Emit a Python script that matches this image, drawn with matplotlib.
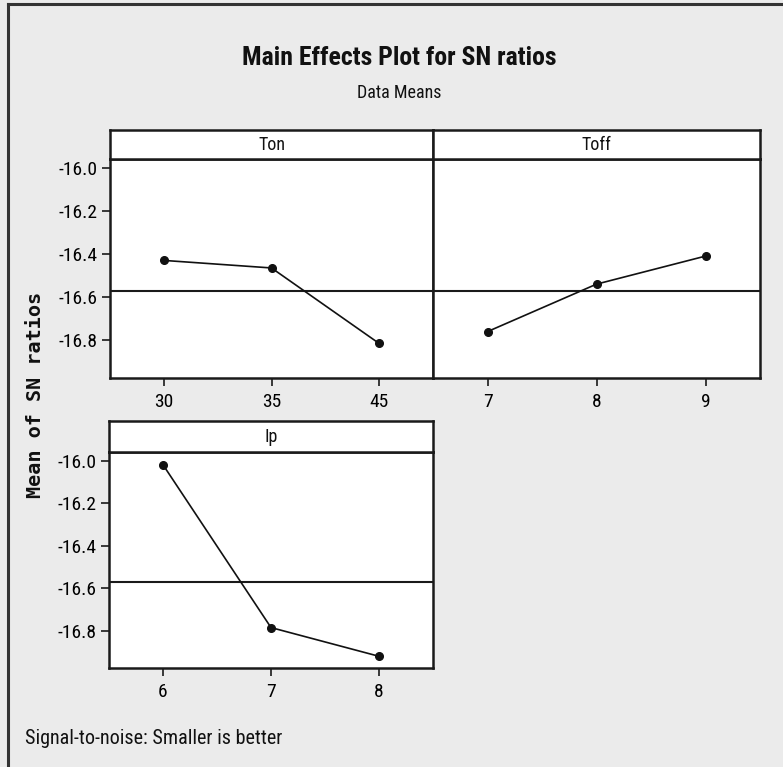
import matplotlib
matplotlib.use("Agg")
import matplotlib.pyplot as plt
from matplotlib import font_manager
import numpy as np

# Main effects data (mean SN ratio at each factor level)
factors = ["Ton", "Toff", "Ip"]
ton_levels = ["30", "35", "45"]
ton_means = [-16.43, -16.465, -16.815]
toff_levels = ["7", "8", "9"]
toff_means = [-16.76, -16.54, -16.41]
ip_levels = ["6", "7", "8"]
ip_means = [-16.02, -16.785, -16.92]
y_ticks = [-16.0, -16.2, -16.4, -16.6, -16.8]

grand_mean = np.mean(ton_means + toff_means + ip_means)

# Prefer a condensed / narrow face for the compact look
narrow_stretch = {"condensed", "semi-condensed", "extra-condensed", "ultra-condensed"}
faces = font_manager.fontManager.ttflist
condensed = [f for f in faces
             if (f.stretch in narrow_stretch or "Narrow" in f.name or "Condensed" in f.name)
             and "Mono" not in f.name and "Serif" not in f.name]
pref = ["Liberation Sans Narrow", "Roboto Condensed", "Open Sans Condensed",
        "DejaVu Sans Condensed", "Noto Sans", "Open Sans", "Roboto", "DejaVu Sans"]
names = [f.name for f in condensed]
family = next((p for p in pref if p in names), names[0] if names else "DejaVu Sans")
plt.rcParams["font.family"] = [family, "DejaVu Sans"]
plt.rcParams["font.stretch"] = "condensed"

W, H = 783, 767
fig = plt.figure(figsize=(W / 100, H / 100), dpi=100)
fig.patch.set_facecolor("#ebebeb")

FRAME = "#1a1a1a"
YLIM = (-16.975, -15.96)
TICK_FS = 14


def px(x0, y0, x1, y1):
    """Pixel box (left, top, right, bottom) -> figure rect."""
    return [x0 / W, 1 - y1 / H, (x1 - x0) / W, (y1 - y0) / H]


def panel(rect, strip_rect, name, levels, means, show_y):
    ax = fig.add_axes(rect)
    ax.set_facecolor("white")
    x = np.arange(len(levels))
    ax.axhline(grand_mean, color=FRAME, lw=1.5, zorder=1)
    ax.plot(x, means, color="#111111", lw=1.2, marker="o", ms=5.5,
            mfc="#111111", mec="#111111", zorder=3)
    ax.set_xlim(-0.5, len(levels) - 0.5)
    ax.set_ylim(*YLIM)
    ax.set_xticks(x)
    ax.set_xticklabels(levels, fontsize=TICK_FS)
    ax.set_yticks(y_ticks)
    if show_y:
        ax.set_yticklabels([f"{v:.1f}" for v in y_ticks], fontsize=TICK_FS)
    else:
        ax.tick_params(axis="y", left=False, labelleft=False)
    ax.tick_params(direction="out", length=6, width=1.2, color=FRAME)
    ax.tick_params(axis="y", pad=3)
    ax.tick_params(axis="x", pad=5)
    for s in ax.spines.values():
        s.set_color(FRAME)
        s.set_linewidth(1.8)

    sax = fig.add_axes(strip_rect)
    sax.set_facecolor("white")
    sax.set_xticks([])
    sax.set_yticks([])
    for s in sax.spines.values():
        s.set_color(FRAME)
        s.set_linewidth(1.8)
    sax.text(0.5, 0.5, name, ha="center", va="center", fontsize=13,
             transform=sax.transAxes, color="#111111")
    return ax


panel(px(110, 159, 433, 378), px(110, 130, 433, 159), factors[0], ton_levels, ton_means, True)
panel(px(433, 159, 760, 378), px(433, 130, 760, 159), factors[1], toff_levels, toff_means, False)
panel(px(109, 452, 433, 668), px(109, 421, 433, 452), factors[2], ip_levels, ip_means, True)

# Titles and annotations
fig.text(399 / W, 1 - 58 / H, "Main Effects Plot for SN ratios", ha="center", va="center",
         fontsize=18.5, fontweight="bold", color="#111111")
fig.text(399 / W, 1 - 93 / H, "Data Means", ha="center", va="center",
         fontsize=13, color="#111111")
fig.text(36 / W, 1 - 395 / H, "Mean of SN ratios", ha="center", va="center", rotation=90,
         fontsize=14.5, fontweight="bold", family="DejaVu Sans Mono", color="#111111")
fig.text(25 / W, 1 - 738 / H, "Signal-to-noise: Smaller is better", ha="left", va="center",
         fontsize=14.5, color="#111111")

# Outer frame (left and top edges)
fig.add_artist(plt.Line2D([8 / W, 8 / W], [0, 1 - 4 / H], transform=fig.transFigure,
                          color="#333333", lw=2.2))
fig.add_artist(plt.Line2D([8 / W, 1], [1 - 4 / H, 1 - 4 / H], transform=fig.transFigure,
                          color="#333333", lw=2.2))

fig.savefig("out.png", dpi=100, facecolor=fig.get_facecolor())
